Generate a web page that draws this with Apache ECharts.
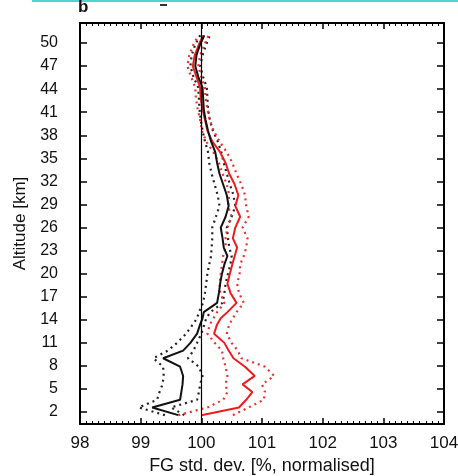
<!DOCTYPE html>
<html>
<head>
<meta charset="utf-8">
<script src="https://cdn.jsdelivr.net/npm/echarts@6/dist/echarts.min.js"></script>
<style>
html,body{margin:0;padding:0;background:#fff;}
#c{width:458px;height:476px;}
</style>
</head>
<body>
<div id="c"></div>
<script>
// Altitude levels [km]
var altitude = [1.6, 2.6, 3.6, 4.6, 5.6, 6.7, 7.9, 9.0, 10.0, 11.0, 12.2, 13.4, 14.2, 15.0, 16.2, 17.5, 18.7, 20.0, 21.2, 22.3, 23.4, 24.6, 26.0, 27.4, 28.8, 30.2, 31.6, 33.0, 34.4, 35.8, 37.2, 38.6, 40.0, 41.4, 42.8, 44.2, 45.6, 47.0, 48.4, 49.8, 51.0];
// Black experiment: mean and bounds [%]
var blackMean = [99.62, 99.19, 99.65, 99.67, 99.69, 99.70, 99.65, 99.37, 99.70, 99.82, 99.93, 99.98, 100.02, 100.04, 100.26, 100.29, 100.31, 100.34, 100.38, 100.43, 100.37, 100.35, 100.32, 100.40, 100.45, 100.42, 100.36, 100.30, 100.26, 100.23, 100.16, 100.11, 100.07, 100.04, 100.03, 100.02, 99.95, 99.90, 99.92, 99.98, 100.05];
var blackLow  = [99.40, 98.97, 99.27, 99.31, 99.36, 99.38, 99.37, 99.21, 99.45, 99.60, 99.75, 99.86, 99.93, 99.96, 100.03, 100.06, 100.08, 100.10, 100.13, 100.16, 100.17, 100.18, 100.18, 100.24, 100.30, 100.27, 100.22, 100.17, 100.13, 100.11, 100.06, 100.02, 99.99, 99.97, 99.96, 99.95, 99.87, 99.82, 99.84, 99.90, 99.98];
var blackHigh = [99.72, 99.50, 99.93, 99.96, 99.98, 100.02, 99.96, 99.78, 99.87, 99.93, 100.00, 100.05, 100.08, 100.15, 100.35, 100.38, 100.40, 100.44, 100.48, 100.50, 100.46, 100.44, 100.42, 100.50, 100.56, 100.53, 100.47, 100.42, 100.37, 100.33, 100.27, 100.19, 100.14, 100.11, 100.10, 100.09, 100.03, 99.98, 100.02, 100.08, 100.14];
// Red experiment: mean and bounds [%]
var redMean = [100.00, 100.62, 100.74, 100.84, 100.68, 100.88, 100.72, 100.53, 100.45, 100.38, 100.21, 100.26, 100.32, 100.43, 100.58, 100.48, 100.43, 100.47, 100.51, 100.55, 100.59, 100.52, 100.56, 100.64, 100.56, 100.61, 100.55, 100.46, 100.40, 100.31, 100.18, 100.10, 100.06, 100.02, 99.99, 99.98, 99.92, 99.86, 99.89, 99.96, 100.03];
var redLow  = [99.62, 100.10, 100.36, 100.43, 100.40, 100.43, 100.40, 100.36, 100.34, 100.22, 100.10, 100.14, 100.20, 100.26, 100.38, 100.31, 100.30, 100.32, 100.34, 100.36, 100.40, 100.40, 100.43, 100.50, 100.44, 100.46, 100.42, 100.35, 100.29, 100.20, 100.08, 100.01, 99.98, 99.94, 99.91, 99.90, 99.83, 99.77, 99.80, 99.87, 99.95];
var redHigh = [100.52, 100.78, 101.03, 101.05, 101.00, 101.20, 101.05, 100.66, 100.60, 100.50, 100.42, 100.46, 100.52, 100.58, 100.70, 100.62, 100.59, 100.63, 100.64, 100.70, 100.74, 100.76, 100.68, 100.78, 100.74, 100.72, 100.66, 100.58, 100.51, 100.42, 100.30, 100.20, 100.14, 100.10, 100.07, 100.06, 100.00, 99.95, 99.98, 100.05, 100.12];
// Axis ticks
var yTicks = [2, 5, 8, 11, 14, 17, 20, 23, 26, 29, 32, 35, 38, 41, 44, 47, 50];
var xTicks = [98, 99, 100, 101, 102, 103, 104];
var refValue = 100;

function pairs(vals) {
  return vals.map(function (v, i) { return [v, altitude[i]]; });
}

var FONT = '"Liberation Sans", Arial, Helvetica, sans-serif';
var chart = echarts.init(document.getElementById('c'), null, {renderer: 'canvas'});

function lineSeries(vals, color, dotted, width) {
  return {
    type: 'line',
    data: pairs(vals),
    xAxisIndex: 0, yAxisIndex: 0,
    symbol: 'none',
    silent: true,
    animation: false,
    lineStyle: {color: color, width: width, type: dotted ? [2, 4] : 'solid'},
    z: dotted ? 2 : 3
  };
}

var series = [
  lineSeries(blackLow, '#222', true, 2.2),
  lineSeries(blackHigh, '#222', true, 2.2),
  lineSeries(redLow, '#f03030', true, 2.2),
  lineSeries(redHigh, '#f03030', true, 2.2),
  lineSeries(redMean, '#ee1c1c', false, 2),
  lineSeries(blackMean, '#111', false, 2)
];
series[0].markLine = {
  silent: true,
  symbol: 'none',
  label: {show: false},
  lineStyle: {color: '#000', width: 1.2, type: 'solid'},
  data: [{xAxis: refValue}]
};

var xMin = xTicks[0], xMax = xTicks[xTicks.length - 1];

chart.setOption({
  animation: false,
  backgroundColor: '#fff',
  grid: {left: 80, right: 14, top: 23, bottom: 52, containLabel: false, outerBoundsMode: 'none'},
  xAxis: [{
    type: 'value', position: 'bottom', min: xMin, max: xMax, interval: 1,
    name: 'FG std. dev. [%, normalised]', nameLocation: 'middle', nameGap: 31,
    nameTextStyle: {fontFamily: FONT, fontSize: 18, color: '#111'},
    axisLine: {show: true, onZero: false, lineStyle: {color: '#000', width: 2}},
    axisTick: {show: true, inside: true, length: 6, lineStyle: {color: '#000', width: 1.5}},
    minorTick: {show: true, splitNumber: 10, length: 3, lineStyle: {color: '#000', width: 1}},
    axisLabel: {fontFamily: FONT, fontSize: 17, color: '#111', margin: 11},
    splitLine: {show: false}
  }, {
    type: 'value', position: 'top', min: xMin, max: xMax, interval: 1,
    axisLine: {show: true, onZero: false, lineStyle: {color: '#000', width: 2}},
    axisTick: {show: true, inside: true, length: 6, lineStyle: {color: '#000', width: 1.5}},
    minorTick: {show: true, splitNumber: 10, length: 3, lineStyle: {color: '#000', width: 1}},
    axisLabel: {show: false},
    splitLine: {show: false}
  }],
  yAxis: [{
    type: 'value', position: 'left', min: 0.45, max: 52.6,
    name: 'Altitude [km]', nameLocation: 'middle', nameGap: 51, nameRotate: 90,
    nameTextStyle: {fontFamily: FONT, fontSize: 17, color: '#111'},
    axisLine: {show: true, onZero: false, lineStyle: {color: '#000', width: 2}},
    axisTick: {show: true, inside: true, length: 7, customValues: yTicks, lineStyle: {color: '#000', width: 1.5}},
    axisLabel: {fontFamily: FONT, fontSize: 16, color: '#111', margin: 22, customValues: yTicks},
    splitLine: {show: false}
  }, {
    type: 'value', position: 'right', min: 0.45, max: 52.6,
    axisLine: {show: true, onZero: false, lineStyle: {color: '#000', width: 2}},
    axisTick: {show: true, inside: true, length: 7, customValues: yTicks, lineStyle: {color: '#000', width: 1.5}},
    axisLabel: {show: false},
    splitLine: {show: false}
  }],
  graphic: [
    {type: 'rect', left: 32, top: 0, shape: {width: 426, height: 2}, style: {fill: '#4fd3d3'}, silent: true},
    {type: 'text', left: 78, top: -1, style: {text: 'b', font: 'bold 17px ' + FONT, fill: '#111'}, silent: true},
    {type: 'rect', left: 160, top: 4, shape: {width: 7, height: 2}, style: {fill: '#333'}, silent: true}
  ],
  series: series
});
</script>
</body>
</html>
